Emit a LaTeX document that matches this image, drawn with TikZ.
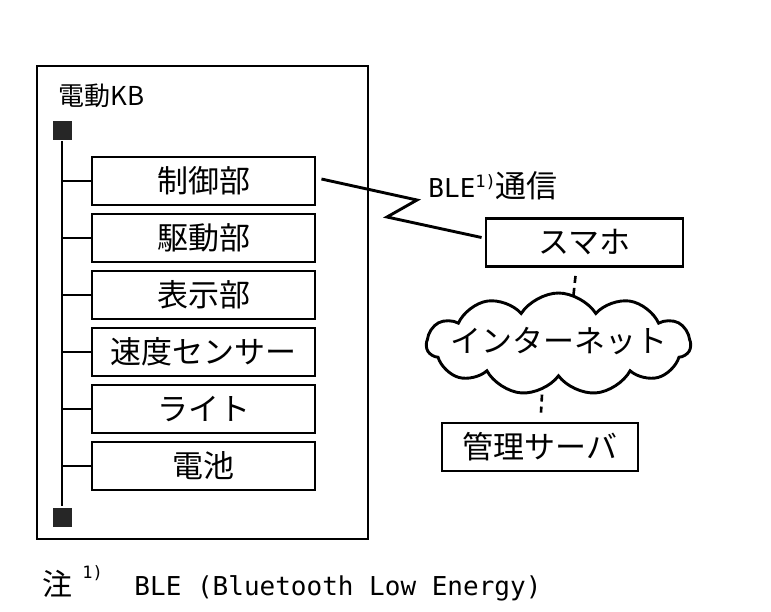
\documentclass[tikz,border=0pt]{standalone}
\usepackage{fontspec}
\setmainfont{Noto Sans CJK JP}
\newfontfamily\monofont{DejaVu Sans Mono}
\usetikzlibrary{shapes.symbols,calc}
\begin{document}
\begin{tikzpicture}[x=1pt,y=-1pt,line width=2.9pt,
  unit/.style={draw,minimum width=223pt,minimum height=48pt,inner sep=0pt,font=\fontsize{31}{36}\selectfont},
  sq/.style={fill=black!85,minimum size=19pt,inner sep=0pt},
  dash link/.style={line width=2.6pt,dash pattern=on 7pt off 5pt},
  txt/.style={inner sep=0pt,font=\fontsize{31}{36}\selectfont}]
\useasboundingbox (0,0) rectangle (771,611);
% outer box
\node[draw,minimum width=331pt,minimum height=473pt,inner sep=0pt] (kb) at (202.5,302.5) {};
\node[anchor=west,inner sep=0pt,font=\fontsize{26}{30}\selectfont] (kbl) at (57,96) {電動KB};
% bus
\node[sq] (bustop) at (62,130) {};
\node[sq] (busbot) at (62,517) {};
\draw (bustop) -- (busbot);
% units
\node[unit] (u1) at (203.5,181) {制御部};
\node[unit] (u2) at (203.5,238) {駆動部};
\node[unit] (u3) at (203.5,295) {表示部};
\node[unit] (u4) at (203.5,352) {速度センサー};
\node[unit] (u5) at (203.5,409) {ライト};
\node[unit] (u6) at (203.5,466) {電池};
\foreach \u in {u1,u2,u3,u4,u5,u6}{\draw (\u.west) -- (\u.west -| bustop);}
% right side
\node[unit,minimum width=197pt] (smaho) at (584.5,242.5) {スマホ};
\node[cloud,draw,cloud puffs=11,cloud puff arc=115,aspect=2.6,minimum width=264pt,minimum height=102pt,inner sep=0pt] (net) at (558.5,344) {};
\node[txt] (netl) at (559,341) {インターネット};
\node[unit,minimum width=196pt] (server) at (540,447) {管理サーバ};
% BLE link
\draw ($(u1.east)+(5,-2)$) -- (417,200) -- (387,217) -- ($(smaho.west)+(-3,-5)$);
\node[anchor=base west,inner sep=0pt] (ble) at (427,197) {{\monofont\fontsize{26}{30}\selectfont BLE}\raisebox{0.95em}{\monofont\fontsize{17}{20}\selectfont 1)}{\fontsize{31}{36}\selectfont 通信}};
% dashed links
\draw[dash link] ($(smaho.south)+(-9,8)$) -- ($(smaho.south)+(-11,27)$);
\draw[dash link] ($(server.north)+(2,-27)$) -- ($(server.north)+(1,-9)$);
% footnote
\node[anchor=base west,inner sep=0pt,font=\fontsize{30}{36}\selectfont] (note) at (41,595) {注};
\node[anchor=base west,inner sep=0pt,font=\monofont\fontsize{17}{20}\selectfont] (notesup) at (81,578) {1)};
\node[anchor=base west,inner sep=0pt,font=\monofont\fontsize{26}{30}\selectfont] (notetxt) at (133,595) {BLE (Bluetooth Low Energy)};
\end{tikzpicture}
\end{document}
